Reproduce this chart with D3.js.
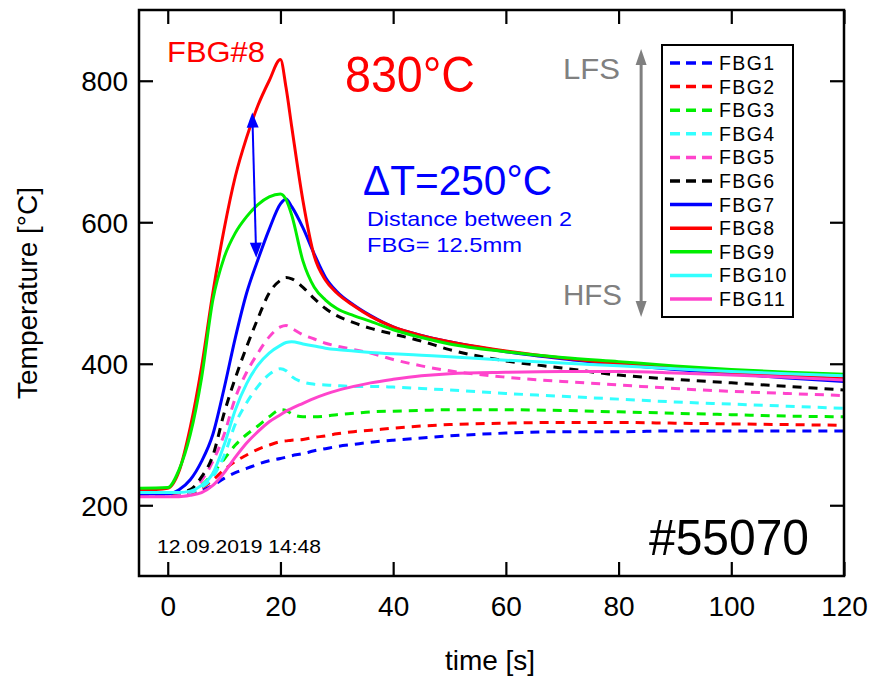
<!DOCTYPE html>
<html>
<head>
<meta charset="utf-8">
<script src="https://cdn.jsdelivr.net/npm/d3@7"></script>
<style>
  html, body { margin: 0; padding: 0; background: #fff; }
  svg { display: block; font-family: "Liberation Sans", Arial, sans-serif; }
</style>
</head>
<body>
<svg id="chart" width="870" height="677"></svg>
<script>
// ---------------- data ----------------
const time = [-5, 0, 2, 4, 6, 8, 10, 12, 14, 16, 18, 20, 21, 22, 24, 26, 28, 30, 33, 36, 40, 45, 50, 60, 70, 80, 90, 100, 110, 120];

const fbg1  = [215,215,215,216,221,228,238,246,252,258,263,266,268,270,273,277,280,283,286,289,292,295,298,302,304,304,305,305,305,305];
const fbg2  = [215,215,215,217,224,236,250,262,271,279,285,290,291,292,293,296,298,301,304,306,309,312,314,316,317,317,316,315,314,313];
const fbg3  = [216,216,217,220,228,245,265,285,300,312,325,335,334,329,325,325,326,328,330,332,333,334,335,335,334,332,330,328,326,325];
const fbg4  = [215,215,216,218,225,240,270,315,345,368,385,393,390,382,374,371,370,369,368,368,367,365,363,358,354,350,346,343,340,337];
const fbg5  = [215,215,216,220,235,262,300,352,388,415,438,452,454,450,441,435,429,425,420,415,406,397,390,381,375,370,365,361,358,355];
const fbg6  = [216,217,218,222,240,270,330,380,424,464,500,518,522,520,508,492,478,468,458,450,442,432,420,404,394,384,378,373,368,363];
const fbg7  = [216,216,222,236,262,300,365,437,500,547,590,626,633,622,592,555,522,502,483,468,452,440,431,417,407,399,392,386,380,375];
const fbg8  = [221,224,248,310,395,500,590,665,720,765,800,830,790,735,630,552,518,500,482,467,452,440,431,418,408,400,394,388,383,379];
const fbg9  = [224,225,250,300,380,490,550,585,608,625,636,640,632,610,545,508,490,478,468,460,448,437,428,417,409,403,397,392,388,385];
const fbg10 = [218,218,218,220,228,245,285,335,372,398,415,426,430,431,428,425,422,420,418,416,414,412,410,405,401,397,393,389,386,383];
const fbg11 = [212,212,212,214,218,228,246,268,288,304,318,328,333,337,344,351,357,362,368,373,378,383,386,388,389,389,387,384,381,377];

const seriesNames  = ["FBG1","FBG2","FBG3","FBG4","FBG5","FBG6","FBG7","FBG8","FBG9","FBG10","FBG11"];
const seriesValues = [fbg1, fbg2, fbg3, fbg4, fbg5, fbg6, fbg7, fbg8, fbg9, fbg10, fbg11];
const seriesColors = ["#0000ff","#ff0000","#00ee00","#33ffff","#ff44cc","#000000","#0000ff","#ff0000","#00ee00","#33ffff","#ff44cc"];
const seriesDashed = [true,true,true,true,true,true,false,false,false,false,false];

const xTicks = [0, 20, 40, 60, 80, 100, 120];
const yTicks = [200, 400, 600, 800];

// annotation values (data coordinates)
const deltaArrow = {t1: 15.0, v1: 755, t2: 15.7, v2: 550};
const fsArrow = {t: 84, v1: 845, v2: 466};

// ---------------- layout ----------------
const svg = d3.select("#chart");
const L = 139, R = 844, T = 10, B = 576;

const x = d3.scaleLinear().domain([-5.1, 120]).range([L, R]);
const y = d3.scaleLinear().domain([100, 900]).range([B, T]);

svg.append("defs").append("clipPath").attr("id", "clip")
  .append("rect").attr("x", L).attr("y", T).attr("width", R - L).attr("height", B - T);

// series lines
const line = d3.line()
  .x((d, i) => x(time[i]))
  .y(d => y(d))
  .curve(d3.curveMonotoneX);

const gLines = svg.append("g").attr("clip-path", "url(#clip)");
seriesValues.forEach((vals, k) => {
  gLines.append("path")
    .datum(vals)
    .attr("d", line)
    .attr("fill", "none")
    .attr("stroke", seriesColors[k])
    .attr("stroke-width", 3)
    .attr("stroke-dasharray", seriesDashed[k] ? "9,7" : null)
    .attr("stroke-linejoin", "round");
});

// axes (ticks inward, mirrored)
const tickLen = 14;
const fontTick = 28;
const axB = svg.append("g").attr("transform", `translate(0,${B})`)
  .call(d3.axisBottom(x).tickValues(xTicks).tickSizeInner(-tickLen).tickSizeOuter(0).tickPadding(0));
const axT = svg.append("g").attr("transform", `translate(0,${T})`)
  .call(d3.axisTop(x).tickValues(xTicks).tickSizeInner(-tickLen).tickSizeOuter(0).tickFormat(""));
const axL = svg.append("g").attr("transform", `translate(${L},0)`)
  .call(d3.axisLeft(y).tickValues(yTicks).tickSizeInner(-tickLen).tickSizeOuter(0).tickPadding(0));
const axR = svg.append("g").attr("transform", `translate(${R},0)`)
  .call(d3.axisRight(y).tickValues(yTicks).tickSizeInner(-tickLen).tickSizeOuter(0).tickFormat(""));

[axB, axT, axL, axR].forEach(a => {
  a.select(".domain").remove();
  a.selectAll(".tick line").attr("stroke", "#000").attr("stroke-width", 2.2);
});
axB.selectAll(".tick text")
  .attr("font-family", "Liberation Sans, Arial, sans-serif")
  .attr("font-size", fontTick).attr("fill", "#000")
  .attr("dy", null).attr("y", 40);
axL.selectAll(".tick text")
  .attr("font-family", "Liberation Sans, Arial, sans-serif")
  .attr("font-size", fontTick).attr("fill", "#000")
  .attr("x", -(L - 128)).attr("dy", "0.36em");

// frame
svg.append("rect").attr("x", L).attr("y", T).attr("width", R - L).attr("height", B - T)
  .attr("fill", "none").attr("stroke", "#000").attr("stroke-width", 2.5);

// axis titles
svg.append("text").attr("x", 490).attr("y", 670).attr("text-anchor", "middle")
  .attr("font-size", 28).text("time [s]");
svg.append("text").attr("transform", "translate(37,293) rotate(-90)").attr("text-anchor", "middle")
  .attr("font-size", 28).text("Temperature [°C]");

// text helper
function label(txt, px, py, size, color, len) {
  const t = svg.append("text").attr("x", px).attr("y", py)
    .attr("font-size", size).attr("fill", color).text(txt);
  if (len) t.attr("textLength", len).attr("lengthAdjust", "spacingAndGlyphs");
  return t;
}

label("FBG#8", 167, 62, 29, "#ff0000", 98);
label("830°C", 345, 92, 50, "#ff0000", 130);
label("ΔT=250°C", 363, 195, 42, "#0000ff", 189);
label("Distance between 2", 367, 226, 21, "#0000ff", 205);
label("FBG= 12.5mm", 367, 252, 21, "#0000ff", 155);
label("LFS", 563, 79, 29, "#808080", 57);
label("HFS", 563, 305, 29, "#808080", 59);
label("#55070", 649, 555, 50, "#000", 160);
label("12.09.2019 14:48", 157, 553, 19, "#000", 164);

// arrows
function dblArrow(x1, y1, x2, y2, color, w, headL, headW) {
  const ang = Math.atan2(y2 - y1, x2 - x1);
  const ux = Math.cos(ang), uy = Math.sin(ang);
  svg.append("line")
    .attr("x1", x1 + ux * headL * 0.8).attr("y1", y1 + uy * headL * 0.8)
    .attr("x2", x2 - ux * headL * 0.8).attr("y2", y2 - uy * headL * 0.8)
    .attr("stroke", color).attr("stroke-width", w);
  const head = (tx, ty, dx, dy) => {
    const bx = tx - dx * headL, by = ty - dy * headL;
    const px = -dy * headW / 2, py = dx * headW / 2;
    svg.append("path")
      .attr("d", `M${tx},${ty}L${bx + px},${by + py}L${bx - px},${by - py}Z`)
      .attr("fill", color);
  };
  head(x2, y2, ux, uy);
  head(x1, y1, -ux, -uy);
}
dblArrow(x(deltaArrow.t1), y(deltaArrow.v1), x(deltaArrow.t2), y(deltaArrow.v2), "#0000ff", 2, 15, 12);
dblArrow(x(fsArrow.t), y(fsArrow.v1), x(fsArrow.t), y(fsArrow.v2), "#808080", 3, 16, 11);

// legend
const lg = svg.append("g");
lg.append("rect").attr("x", 662).attr("y", 45).attr("width", 131).attr("height", 272)
  .attr("fill", "#fff").attr("stroke", "#000").attr("stroke-width", 2);
seriesNames.forEach((name, k) => {
  const yy = 63 + k * 23.6;
  lg.append("line").attr("x1", 670).attr("x2", 712).attr("y1", yy).attr("y2", yy)
    .attr("stroke", seriesColors[k]).attr("stroke-width", 3.5)
    .attr("stroke-dasharray", seriesDashed[k] ? "10,6" : null);
  lg.append("text").attr("x", 719).attr("y", yy).attr("dy", "0.36em")
    .attr("font-size", 19.5).attr("letter-spacing", 1.4).attr("fill", "#000").text(name);
});
</script>
</body>
</html>
